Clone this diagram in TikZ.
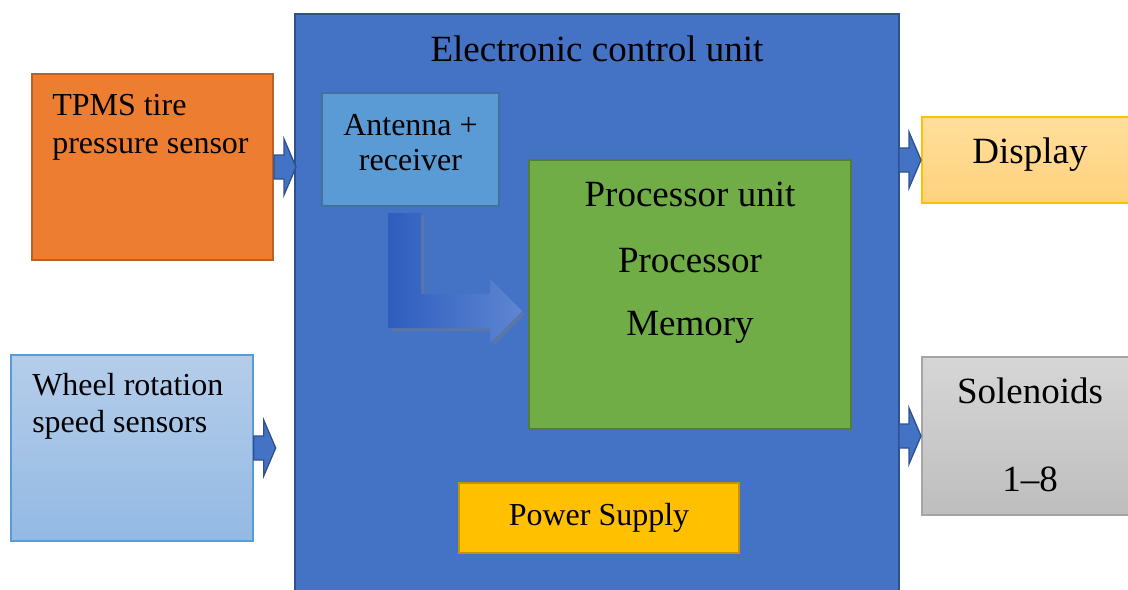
\documentclass[tikz,border=0pt]{standalone}
\usepackage{fontspec}
\setmainfont{Liberation Serif}
\usetikzlibrary{calc,shadows}

\definecolor{ecublue}{HTML}{4472C4}
\definecolor{ecuedge}{HTML}{2F528F}
\definecolor{tpmsorange}{HTML}{ED7D31}
\definecolor{tpmsedge}{HTML}{B9612A}
\definecolor{antblue}{HTML}{5B9BD5}
\definecolor{antedge}{HTML}{41719C}
\definecolor{procgreen}{HTML}{70AD47}
\definecolor{procedge}{HTML}{507E32}
\definecolor{powergold}{HTML}{FFC000}
\definecolor{poweredge}{HTML}{C49300}
\definecolor{wheeltop}{HTML}{B5CDEA}
\definecolor{wheelbot}{HTML}{93B9E3}
\definecolor{disptop}{HTML}{FFDE9C}
\definecolor{dispbot}{HTML}{FFD27C}
\definecolor{soltop}{HTML}{D6D6D6}
\definecolor{solbot}{HTML}{BEBEBE}
\definecolor{soledge}{HTML}{A5A5A5}
\definecolor{lstart}{HTML}{2D5DBE}
\definecolor{lend}{HTML}{5F86D2}

\tikzset{
  box/.style={draw, line width=1.5pt, inner sep=0pt},
  bigtext/.style={font=\fontsize{27.75}{33}\selectfont, inner sep=0pt},
  smalltext/.style={font=\fontsize{24}{28}\selectfont, inner sep=0pt},
  arrowfill/.style={fill=ecublue, draw=ecuedge, line width=1pt, line join=miter},
}
\newcommand{\blockarrow}[1]{\draw[arrowfill] #1 ++(0,-12) -- ++(10,0) -- ++(0,-16) -- ++(12,28) -- ++(-12,28) -- ++(0,-16) -- ++(-10,0) -- cycle;}

\begin{document}
\begin{tikzpicture}[x=0.75pt,y=-0.75pt]
\useasboundingbox (0,0) rectangle (1128,589);

% boxes
\node[box, fill=ecublue, draw=ecuedge, minimum width=453pt, minimum height=439.5pt] (ecu) at (597,307) {};
\node[box, fill=tpmsorange, draw=tpmsedge, minimum width=180.75pt, minimum height=139.5pt] (tpms) at (152.5,167) {};
\node[box, top color=wheeltop, bottom color=wheelbot, draw=antblue, line width=1pt, minimum width=181.5pt, minimum height=139.5pt] (wheel) at (132,448) {};
\node[box, fill=antblue, draw=antedge, minimum width=132.75pt, minimum height=84.75pt] (antenna) at (410.5,149.5) {};
\node[box, fill=procgreen, draw=procedge, minimum width=241.5pt, minimum height=201.75pt] (proc) at (690,294.5) {};
\node[box, fill=powergold, draw=poweredge, minimum width=210pt, minimum height=52.5pt] (power) at (599,518) {};
\node[box, top color=disptop, bottom color=dispbot, draw=powergold, minimum width=162pt, minimum height=64.5pt] (display) at (1030,160) {};
\node[box, top color=soltop, bottom color=solbot, draw=soledge, minimum width=162pt, minimum height=118.5pt] (solenoid) at (1030,436) {};

% labels
\node[bigtext] (ecutitle) at (597,49) {Electronic control unit};
\node[smalltext, align=left, anchor=west, font=\fontsize{24}{28.5}\selectfont] (tpmstext) at (52,127) {TPMS tire\\pressure sensor};
\node[smalltext, align=left, anchor=west] (wheeltext) at (32,406) {Wheel rotation\\speed sensors};
\node[smalltext, align=center, font=\fontsize{24}{26.25}\selectfont] (anttext) at (410.5,143) {Antenna +\\receiver};
\node[bigtext] (procunit) at (690,194) {Processor unit};
\node[bigtext] (processor) at (690,261) {Processor};
\node[bigtext] (memory) at (690,327) {Memory};
\node[smalltext] (powertext) at (599,518) {Power Supply};
\node[bigtext] (disptext) at (1030,155) {Display};
\node[bigtext] (soltext) at (1030,391) {Solenoids};
\node[bigtext] (soltext2) at (1030,479) {1--8};

% arrows
\blockarrow{(tpms.east)}
\blockarrow{(wheel.east)}
\blockarrow{($(display.west)+(-22,0)$)}
\blockarrow{($(solenoid.west)+(-22,0)$)}
\shade[left color=lstart, right color=lend, drop shadow={shadow xshift=2.5pt, shadow yshift=-2.5pt, opacity=.35}]
  ($(antenna.south)+(-22.5,6)$) -- ++(33,0) -- ++(0,81) -- ++(69,0) -- ++(0,-15)
  -- ++(32,32) -- ++(-32,32) -- ++(0,-15) -- ++(-102,0) -- cycle;
\end{tikzpicture}
\end{document}
